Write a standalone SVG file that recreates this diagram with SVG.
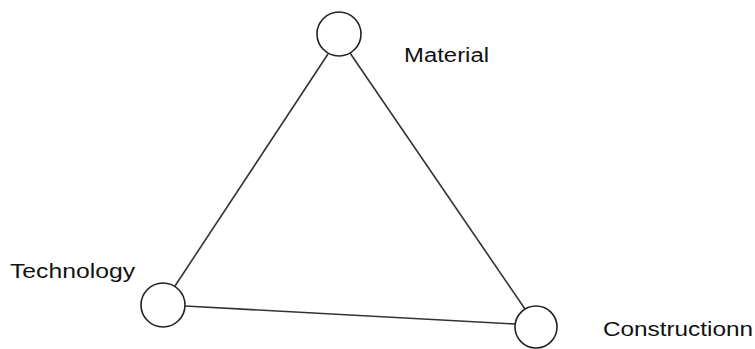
<svg xmlns="http://www.w3.org/2000/svg" width="755" height="349" viewBox="0 0 755 349">
<style>
.node{fill:#fff;stroke:#222;stroke-width:1.6}
.edge{stroke:#333;stroke-width:1.6;fill:none}
.lbl{font-family:"Liberation Sans",Arial,sans-serif;font-size:20px;fill:#111}
</style>
<rect width="755" height="349" fill="#fff"/>
<g id="connectors">
<line class="edge" x1="328" y1="54" x2="175" y2="286"/>
<line class="edge" x1="350" y1="53" x2="525" y2="309"/>
<line class="edge" x1="185" y1="306" x2="515" y2="324"/>
</g>
<g id="material">
<circle class="node" cx="339" cy="34" r="22"/>
<text class="lbl" x="404" y="62" textLength="85" lengthAdjust="spacingAndGlyphs">Material</text>
</g>
<g id="technology">
<circle class="node" cx="163" cy="305" r="22"/>
<text class="lbl" x="10" y="278" textLength="125" lengthAdjust="spacingAndGlyphs">Technology</text>
</g>
<g id="constructionn">
<circle class="node" cx="536" cy="327" r="21"/>
<text class="lbl" x="603" y="336" textLength="150" lengthAdjust="spacingAndGlyphs">Constructionn</text>
</g>
</svg>
